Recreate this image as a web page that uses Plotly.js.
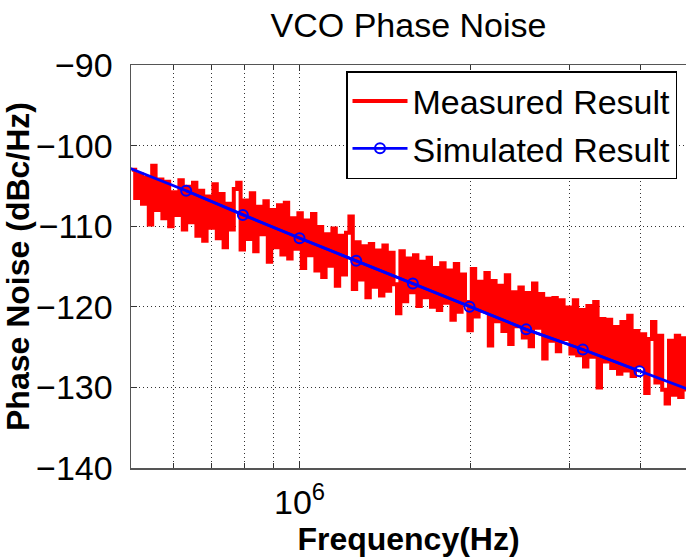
<!DOCTYPE html>
<html>
<head>
<meta charset="utf-8">
<script src="https://cdn.plot.ly/plotly-3.0.1.min.js"></script>
<style>html,body{margin:0;padding:0;background:#fff;}#chart{width:686px;height:557px;}</style>
</head>
<body>
<div id="chart"></div>
<script>
// Measured sweep: log10(frequency / Hz) of each sample
var measLogFreq = [
5.704,5.710,5.716,5.722,5.728,5.734,5.740,5.746,5.752,5.758,
5.764,5.770,5.776,5.782,5.788,5.794,5.800,5.806,5.812,5.818,
5.824,5.830,5.836,5.842,5.848,5.854,5.860,5.866,5.872,5.878,
5.884,5.890,5.896,5.902,5.908,5.914,5.920,5.926,5.932,5.938,
5.944,5.950,5.956,5.962,5.968,5.974,5.980,5.986,5.992,5.998,
6.004,6.010,6.016,6.022,6.028,6.034,6.040,6.046,6.052,6.058,
6.064,6.070,6.076,6.082,6.088,6.094,6.100,6.106,6.112,6.118,
6.124,6.130,6.136,6.142,6.148,6.154,6.160,6.166,6.172,6.178,
6.184,6.190,6.196,6.202,6.208,6.214,6.220,6.226,6.232,6.238,
6.244,6.250,6.256,6.262,6.268,6.274,6.280,6.286,6.292,6.298,
6.304,6.310,6.316,6.322,6.328,6.334,6.340,6.346,6.352,6.358,
6.364,6.370,6.376,6.382,6.388,6.394,6.400,6.406,6.412,6.418,
6.424,6.430,6.436,6.442,6.448,6.454,6.460,6.466,6.472,6.478,
6.484,6.490,6.496,6.502,6.508,6.514,6.520,6.526,6.532,6.538,
6.544,6.550,6.556,6.562,6.568,6.574,6.580,6.586,6.592,6.598,
6.604,6.610,6.616,6.622,6.628,6.634,6.640,6.646,6.652,6.658,
6.664,6.670,6.676,6.682
];
// Measured phase noise (dBc/Hz)
var measDb = [
-103.0,-106.5,-103.6,-107.2,-104.0,-109.8,-102.5,-108.0,-104.2,-109.0,
-104.5,-110.0,-105.8,-108.6,-104.3,-110.4,-105.1,-109.5,-104.6,-111.2,
-105.6,-111.8,-106.3,-110.2,-104.8,-111.5,-106.0,-112.6,-107.2,-110.4,
-105.4,-104.6,-112.9,-106.8,-111.6,-105.9,-113.1,-107.6,-111.0,-106.9,
-114.4,-108.0,-112.6,-107.4,-113.5,-107.1,-114.0,-109.0,-112.8,-108.4,
-115.2,-109.3,-113.6,-108.5,-115.5,-110.1,-116.3,-111.0,-114.9,-110.3,
-117.4,-111.2,-116.0,-110.8,-108.8,-117.8,-112.0,-116.6,-112.5,-118.8,
-112.2,-117.5,-113.0,-118.6,-112.4,-118.0,-113.3,-117.2,-120.8,-113.1,
-119.3,-114.0,-118.2,-113.6,-119.9,-114.4,-118.8,-113.9,-120.0,-115.2,
-120.4,-114.6,-119.5,-115.5,-121.6,-114.7,-120.6,-116.0,-119.4,-122.9,
-115.3,-121.2,-116.9,-120.5,-115.8,-124.8,-116.8,-121.8,-117.4,-123.0,
-116.1,-124.6,-118.2,-122.4,-117.6,-123.8,-118.3,-124.9,-117.1,-122.6,
-118.4,-126.4,-119.0,-124.2,-118.9,-125.5,-119.2,-124.0,-120.1,-125.8,
-119.2,-126.0,-120.4,-127.4,-119.9,-126.2,-119.4,-130.0,-121.5,-126.8,
-121.6,-127.6,-122.5,-128.3,-121.9,-127.9,-121.1,-128.6,-123.0,-127.2,
-123.4,-130.7,-124.0,-121.9,-129.4,-123.6,-130.3,-132.0,-124.2,-130.9,
-123.6,-131.2,-123.9,-130.5
];
// Simulated result: log10(frequency / Hz) and phase noise (dBc/Hz)
var simLogFreq = [5.7,5.8,5.9,6.0,6.1,6.2,6.3,6.4,6.5,6.6,6.7];
var simDb = [-102.8,-105.6,-108.6,-111.5,-114.3,-117.1,-120.0,-122.8,-125.3,-128.0,-130.6];

var xMajorTickVals = [1e6];
var xMajorTickText = ['10<sup>6</sup>'];
var xMinorTickVals = [6e5,7e5,8e5,9e5,2e6,3e6,4e6];
var yTickVals = [-140,-130,-120,-110,-100,-90];

var seriesNames = ['Measured Result','Simulated Result'];

function toHz(arr){ return arr.map(function(e){ return Math.pow(10, e); }); }

var font = 'Liberation Sans, Arial, Helvetica, sans-serif';
var simHz = toHz(simLogFreq);
var gridCol = '#333';

var traces = [
  {x: toHz(measLogFreq), y: measDb, type: 'scatter', mode: 'lines', name: seriesNames[0],
   line: {color: '#ff0000', width: 4, shape: 'hv'}},
  {x: simHz, y: simDb, type: 'scatter', mode: 'lines', showlegend: false, hoverinfo: 'skip',
   line: {color: '#0000ff', width: 2.8}},
  {x: simHz.slice(1, 10), y: simDb.slice(1, 10), type: 'scatter', mode: 'lines+markers', name: seriesNames[1],
   line: {color: '#0000ff', width: 2.8},
   marker: {symbol: 'circle-open', size: 10, color: '#0000ff', line: {width: 2, color: '#0000ff'}}}
];

var layout = {
  width: 686, height: 557,
  margin: {l: 131, r: 0, t: 65, b: 89, pad: 0},
  paper_bgcolor: '#ffffff', plot_bgcolor: '#ffffff',
  font: {family: font, color: '#000', size: 34},
  showlegend: true,
  title: {text: 'VCO Phase Noise', font: {family: font, size: 34, color: '#000'},
          x: 0.5, xref: 'paper', xanchor: 'center', y: 1 - 25/557, yref: 'container', yanchor: 'middle'},
  xaxis: {
    type: 'log', range: [5.7026, 6.682],
    tickmode: 'array', tickvals: xMajorTickVals, ticktext: xMajorTickText,
    ticks: 'inside', ticklen: 6, tickwidth: 1, tickcolor: '#333',
    minor: {tickmode: 'array', tickvals: xMinorTickVals, ticks: 'inside', ticklen: 5, tickwidth: 1, tickcolor: '#333',
            showgrid: true, gridcolor: gridCol, gridwidth: 1, griddash: '1px,3px'},
    showline: true, linecolor: '#555', linewidth: 1.5, mirror: 'allticks',
    showgrid: true, gridcolor: gridCol, gridwidth: 1, griddash: '1px,3px',
    zeroline: false, tickfont: {family: font, size: 34, color: '#000'},
    ticklabelstandoff: 4,
    automargin: false,
    title: {text: '<b>Frequency(Hz)</b>', font: {family: font, size: 32, color: '#000'}, standoff: 0}
  },
  yaxis: {
    range: [-140, -90], tickmode: 'array', tickvals: yTickVals,
    ticks: 'inside', ticklen: 6, tickwidth: 1, tickcolor: '#333',
    showline: true, linecolor: '#555', linewidth: 1.5, mirror: false,
    showgrid: true, gridcolor: gridCol, gridwidth: 1, griddash: '1px,3px',
    zeroline: false, tickfont: {family: font, size: 34, color: '#000'},
    ticklabelstandoff: 10,
    automargin: false,
    title: {text: '<b>Phase Noise (dBc/Hz)</b>', font: {family: font, size: 32, color: '#000'}, standoff: 0}
  },
  legend: {
    x: (346 - 131) / 555, y: (468 - 71) / 403, xanchor: 'left', yanchor: 'top',
    xref: 'paper', yref: 'paper',
    bgcolor: '#ffffff', bordercolor: '#000', borderwidth: 1.5,
    font: {family: font, size: 34, color: '#000'},
    itemwidth: 55, tracegroupgap: 0
  }
};

Plotly.newPlot('chart', traces, layout, {displayModeBar: false, staticPlot: true});
</script>
</body>
</html>
